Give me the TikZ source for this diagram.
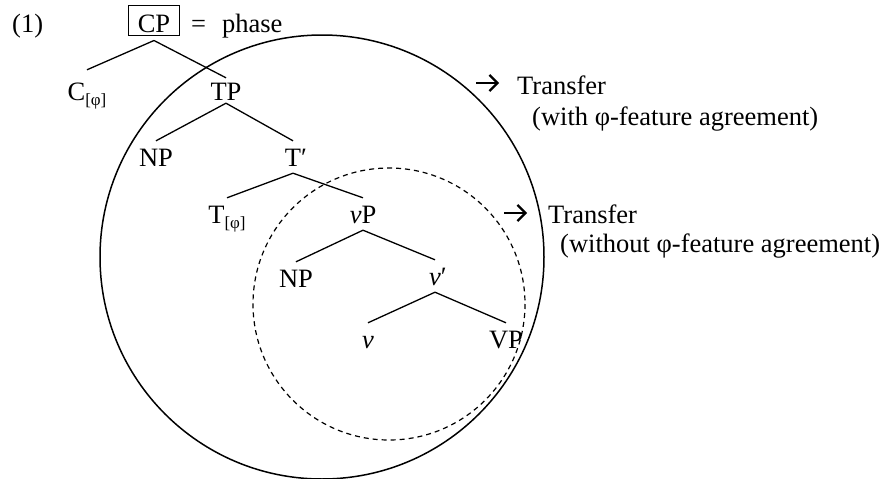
\documentclass[tikz,border=0pt]{standalone}
\usepackage{fontspec}
\setmainfont{Liberation Serif}
\usetikzlibrary{arrows.meta}
\newcommand{\lblfont}{\fontsize{26.5}{31}\selectfont}
\newcommand{\subfont}{\fontsize{17}{17}\selectfont}
\begin{document}
\begin{tikzpicture}[x=1pt,y=-1pt,
  every node/.style={font=\lblfont},
  tlabel/.style={anchor=base, inner xsep=0pt, inner ysep=7pt, text height=18pt, text depth=0pt},
  plain/.style={anchor=base west, inner sep=0pt},
  branch/.style={line width=1.3pt},
  transferarrow/.style={line width=2.2pt, -{Straight Barb[length=8pt,width=16pt,line width=2.2pt]}}]
\useasboundingbox (0,0) rectangle (884,479);

% example number and phase label
\node[plain] (num) at (12,32) {(1)};
\node[draw, line width=1pt, anchor=base, inner xsep=9pt, inner ysep=0pt, text height=27pt, text depth=3pt] (CP) at (154,32) {CP};
\node[plain] (phase) at (191,32) {=\hspace{16pt}phase};

% tree labels
\node[tlabel] (C)   at (87,100)  {C\raisebox{-5pt}{\subfont[φ]}};
\node[tlabel] (TP)  at (226,100) {TP};
\node[tlabel] (NPa) at (156,166) {NP};
\node[tlabel] (Tb)  at (293,166) {T\rlap{′}};
\node[tlabel] (T)   at (227,223) {T\raisebox{-5pt}{\subfont[φ]}};
\node[tlabel] (vP)  at (363,223) {\textit{v}P};
\node[tlabel] (NPb) at (296,287) {NP};
\node[tlabel] (vb)  at (435,285) {\textit{v}\rlap{′}};
\node[tlabel] (v)   at (368,348) {\textit{v}};
\node[tlabel] (VP)  at (506,348) {VP};

% branches
\draw[branch] ([yshift=-5pt]CP.south) -- ([yshift=5pt]C.north);
\draw[branch] ([yshift=-5pt]CP.south) -- ([yshift=-3pt]TP.north);
\draw[branch] ([yshift=4pt]TP.south) -- (NPa.north);
\draw[branch] ([yshift=4pt]TP.south) -- (Tb.north);
\draw[branch] (Tb.south) -- (T.north);
\draw[branch] (Tb.south) -- (vP.north);
\draw[branch] (vP.south) -- (NPb.north);
\draw[branch] (vP.south) -- (vb.north);
\draw[branch] (vb.south) -- (v.north);
\draw[branch] (vb.south) -- (VP.north);

% transfer domains
\coordinate (outerc) at (322,257);
\coordinate (innerc) at (389,304);
\draw[line width=1.5pt] (outerc) circle[radius=222];
\draw[line width=1.2pt, dash pattern=on 5pt off 4pt] (innerc) circle[radius=136];

% transfer annotations
\coordinate (a1s) at (476,83);
\coordinate (a1e) at (499,83);
\coordinate (a2s) at (504,213);
\coordinate (a2e) at (527,213);
\draw[transferarrow] (a1s) -- (a1e);
\draw[transferarrow] (a2s) -- (a2e);
\node[plain] (tr1) at (517,94)  {Transfer};
\node[plain] (ag1) at (532,125) {(with φ-feature agreement)};
\node[plain] (tr2) at (548,223) {Transfer};
\node[plain] (ag2) at (560,252) {(without φ-feature agreement)};
\end{tikzpicture}
\end{document}
